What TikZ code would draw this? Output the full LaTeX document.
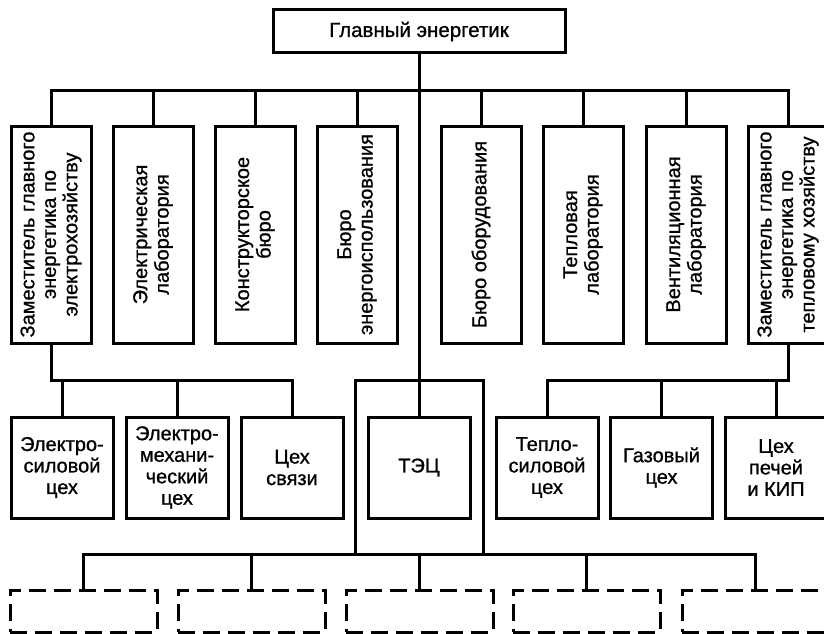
\documentclass[tikz,border=0pt]{standalone}
\usepackage{fontspec}
\setmainfont{Liberation Sans}[FakeBold=0.9]
\begin{document}
\begin{tikzpicture}[x=1pt,y=-1pt,
  ln/.style={line width=3pt,line cap=rect},
  box/.style={draw,line width=3pt,inner sep=0pt,align=center,
    font=\fontsize{20}{21.5}\selectfont},
  topbox/.style={box,minimum width=292pt,minimum height=43pt},
  vbox/.style={box,rotate=90,minimum width=217pt,minimum height=80pt},
  sbox/.style={box,minimum width=102pt,minimum height=101pt},
  dbox/.style={draw,line width=3pt,dash pattern=on 17pt off 8pt,
    minimum width=147pt,minimum height=42pt,inner sep=0pt}]
\useasboundingbox[fill=white] (0,0) rectangle (824,634);

\node[topbox,font=\fontsize{20.5}{22}\selectfont] (top) at (419,31.5) {Главный энергетик};

\node[vbox] (v1) at (51,234.5) {Заместитель главного\\энергетика по\\электрохозяйству};
\node[vbox] (v2) at (153,234.5) {Электрическая\\лаборатория};
\node[vbox] (v3) at (255,234.5) {Конструкторское\\бюро};
\node[vbox] (v4) at (357,234.5) {Бюро\\энергоиспользования};
\node[vbox] (v5) at (481,234.5) {Бюро оборудования};
\node[vbox] (v6) at (583,234.5) {Тепловая\\лаборатория};
\node[vbox] (v7) at (686,234.5) {Вентиляционная\\лаборатория};
\node[vbox] (v8) at (788,234.5) {Заместитель главного\\энергетика по\\тепловому хозяйству};

\node[sbox] (s1) at (62,467.5) {Электро-\\силовой\\цех};
\node[sbox] (s2) at (177,467.5) {Электро-\\механи-\\ческий\\цех};
\node[sbox] (s3) at (292,467.5) {Цех\\связи};
\node[sbox] (tec) at (419,467.5) {ТЭЦ};
\node[sbox] (s5) at (547,467.5) {Тепло-\\силовой\\цех};
\node[sbox] (s6) at (661.5,467.5) {Газовый\\цех};
\node[sbox] (s7) at (776,467.5) {Цех\\печей\\и КИП};

\node[dbox] (d1) at (83.5,611) {};
\node[dbox] (d2) at (251.5,611) {};
\node[dbox] (d3) at (419.5,611) {};
\node[dbox] (d4) at (586.5,611) {};
\node[dbox] (d5) at (755.5,611) {};

\coordinate (bus) at (0,90);
\coordinate (lb) at (0,380.5);
\coordinate (bb) at (0,554);
\coordinate (kL) at (355,554);
\coordinate (kR) at (483,554);

% main line
\draw[ln] (top.south) -- (tec.north);
% upper bus
\draw[ln] (v1.east) -- (v1.east |- bus) -- (v8.east |- bus) -- (v8.east);
\foreach \v in {v2,v3,v4,v5,v6,v7}
  \draw[ln] (\v.east) -- (\v.east |- bus);
% left sub-bus
\draw[ln] (v1.west) -- (v1.west |- lb) -| (s3.north);
\draw[ln] (s1.north) -- (s1.north |- lb);
\draw[ln] (s2.north) -- (s2.north |- lb);
% right sub-bus
\draw[ln] (v8.west) -- (v8.west |- lb) -| (s5.north);
\draw[ln] (s6.north) -- (s6.north |- lb);
\draw[ln] (s7.north) -- (s7.north |- lb);
% bracket around TEC
\draw[ln] (kL) -- (kL |- lb) -| (kR);
% lower bus
\draw[ln] (d1.north) -- (d1.north |- bb) -- (d5.north |- bb) -- (d5.north);
\foreach \d in {d2,d3,d4}
  \draw[ln] (\d.north) -- (\d.north |- bb);
\end{tikzpicture}
\end{document}
